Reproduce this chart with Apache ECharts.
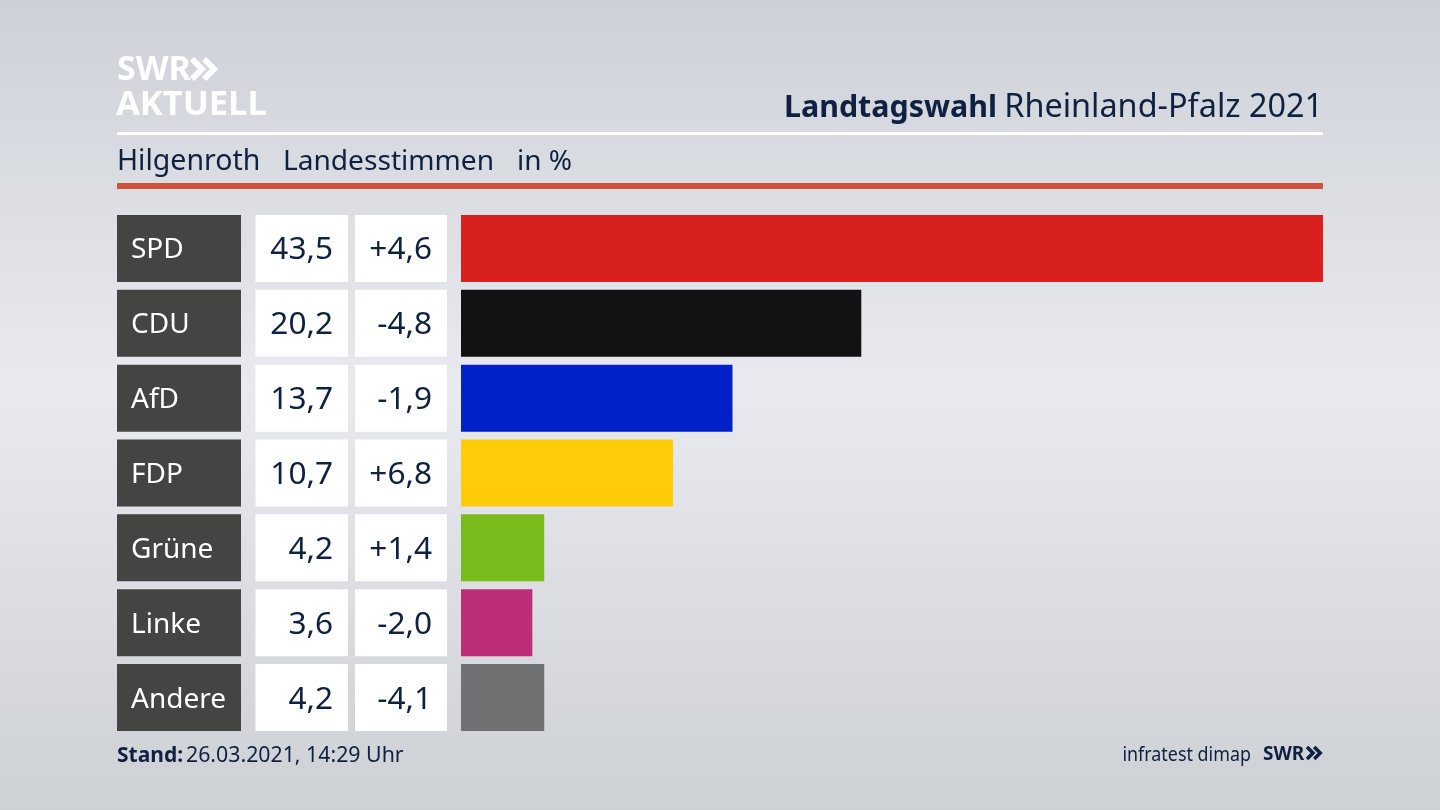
<!DOCTYPE html>
<html>
<head>
<meta charset="utf-8">
<style>
html, body { margin: 0; padding: 0; background: #dfe1e6; }
#chart { width: 1440px; height: 810px; }
</style>
<script src="https://cdn.jsdelivr.net/npm/echarts@6/dist/echarts.min.js"></script>
</head>
<body>
<div id="chart"></div>
<script>
// Landesstimmen Hilgenroth
const parties = ['SPD', 'CDU', 'AfD', 'FDP', 'Grüne', 'Linke', 'Andere'];
const shares = [43.5, 20.2, 13.7, 10.7, 4.2, 3.6, 4.2];
const changes = [4.6, -4.8, -1.9, 6.8, 1.4, -2.0, -4.1];
const partyColors = ['#d8201f', '#121212', '#0021c8', '#ffcc07', '#78bc1b', '#bc2f78', '#707172'];

const FONT = '"Noto Sans", sans-serif';
const NAVY = '#0f2140';

const comma = (v) => v.toFixed(1).replace('.', ',');
const signed = (v) => (v > 0 ? '+' : '') + comma(v);

// jede Spalte ist ein eigenes Grid mit gleicher Zeilenhoehe
const gridTop = 211;
const gridHeight = 524;
const columns = [
  { left: 117, width: 124 },
  { left: 255.5, width: 92.5 },
  { left: 355, width: 92 },
  { left: 461, width: 862 }
];

const grid = columns.map((c) => ({ left: c.left, width: c.width, top: gridTop, height: gridHeight }));
const xAxis = columns.map((c, i) => ({
  gridIndex: i, type: 'value', min: 0, max: i === 3 ? 43.5 : 1, show: false
}));
const yAxis = columns.map((c, i) => ({
  gridIndex: i, type: 'category', inverse: true, data: parties, show: false
}));

function cellSeries(i, color, label, formatter) {
  return {
    type: 'bar',
    xAxisIndex: i,
    yAxisIndex: i,
    barWidth: 67,
    silent: true,
    animation: false,
    itemStyle: { color: color },
    label: Object.assign({ show: true, fontFamily: FONT, offset: [0, 2], formatter: formatter }, label),
    data: parties.map(() => 1)
  };
}

const series = [
  cellSeries(0, '#444442', { position: 'insideLeft', distance: 14, fontSize: 28, color: '#fff' },
    (p) => parties[p.dataIndex]),
  cellSeries(1, '#fff', { position: 'insideRight', distance: 15, fontSize: 31.6, color: NAVY },
    (p) => comma(shares[p.dataIndex])),
  cellSeries(2, '#fff', { position: 'insideRight', distance: 15, fontSize: 31.6, color: NAVY },
    (p) => signed(changes[p.dataIndex])),
  {
    type: 'bar',
    xAxisIndex: 3,
    yAxisIndex: 3,
    barWidth: 67,
    silent: true,
    animation: false,
    data: shares.map((v, i) => ({ value: v, itemStyle: { color: partyColors[i] } }))
  }
];

function txt(x, y, text, size, color, extra) {
  return {
    type: 'text', x: x, y: y, silent: true,
    style: Object.assign({
      text: text, fontFamily: FONT, fontSize: size, fill: color, textVerticalAlign: 'middle'
    }, extra || {})
  };
}
function rect(x, y, w, h, color) {
  return { type: 'rect', silent: true, shape: { x: x, y: y, width: w, height: h }, style: { fill: color } };
}
function chevrons(x, y, w, h, color, lw) {
  const one = (dx) => ({
    type: 'polyline', silent: true,
    shape: { points: [[x + dx, y], [x + dx + w, y + h / 2], [x + dx, y + h]] },
    style: { stroke: color, lineWidth: lw, fill: null }
  });
  return [one(0), one(w + lw * 0.35)];
}

const graphic = [
  // Hintergrund
  Object.assign(rect(0, 0, 1440, 810, {
    type: 'linear', x: 0, y: 0, x2: 0, y2: 1,
    colorStops: [
      { offset: 0, color: '#cdd1d7' },
      { offset: 0.48, color: '#e9eaef' },
      { offset: 1, color: '#cdd0d5' }
    ]
  }), { z: -10 }),
  // Logo
  txt(117, 70, 'SWR', 34, '#fff', { fontWeight: 'bold' }),
  ...chevrons(192, 59, 10, 20, '#fff', 6),
  txt(116, 105, 'AKTUELL', 34.5, '#fff', { fontWeight: 'bold' }),
  // Kopf
  txt(997, 108, 'Landtagswahl', 30.4, NAVY, { fontWeight: 'bold', textAlign: 'right' }),
  txt(1323, 108, 'Rheinland-Pfalz 2021', 32.4, NAVY, { textAlign: 'right' }),
  rect(117, 132, 1206, 3, '#fff'),
  txt(117, 162, 'Hilgenroth', 28.5, NAVY),
  txt(283, 162, 'Landesstimmen', 28.1, NAVY),
  txt(517, 162, 'in %', 28, NAVY),
  rect(117, 183, 1206, 6, '#cf533c'),
  // Fuss
  txt(117, 756, 'Stand:', 21, NAVY, { fontWeight: 'bold' }),
  txt(186, 756, '26.03.2021, 14:29 Uhr', 21.3, NAVY),
  Object.assign(txt(1251, 755, 'infratest dimap', 20, NAVY, { textAlign: 'right' }), { scaleX: 0.895 }),
  txt(1263, 755, 'SWR', 19, NAVY, { fontWeight: 'bold' }),
  ...chevrons(1307, 747, 6, 12, NAVY, 3.5)
];

const chart = echarts.init(document.getElementById('chart'), null, { renderer: 'canvas' });
chart.setOption({
  animation: false,
  grid: grid,
  xAxis: xAxis,
  yAxis: yAxis,
  series: series,
  graphic: graphic
});
</script>
</body>
</html>
